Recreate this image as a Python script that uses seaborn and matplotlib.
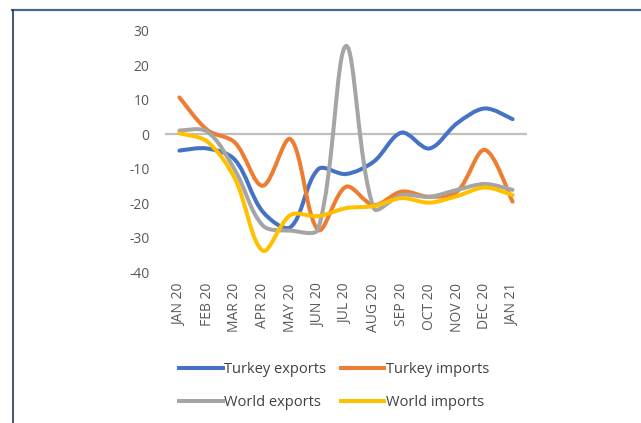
import numpy as np
import pandas as pd
import matplotlib
matplotlib.use('Agg')
import matplotlib.pyplot as plt
import seaborn as sns
from matplotlib.path import Path
from matplotlib.patches import PathPatch
from matplotlib.lines import Line2D

months = ['JAN 20', 'FEB 20', 'MAR 20', 'APR 20', 'MAY 20', 'JUN 20', 'JUL 20',
          'AUG 20', 'SEP 20', 'OCT 20', 'NOV 20', 'DEC 20', 'JAN 21']
turkey_exports = [-4.8, -4.2, -7.5, -22.5, -27.0, -10.2, -11.6, -8.0, 0.4, -4.2, 3.1, 7.4, 4.3]
turkey_imports = [10.6, 1.2, -2.5, -15.0, -1.5, -27.8, -15.3, -20.6, -16.7, -18.2, -16.7, -4.6, -19.6]
world_exports = [1.0, 0.7, -10.5, -26.5, -28.0, -27.5, 25.5, -21.5, -17.7, -18.2, -16.2, -14.5, -16.2]
world_imports = [0.2, -2.2, -13.0, -33.8, -23.5, -23.8, -21.5, -20.9, -18.6, -19.9, -18.0, -15.5, -17.7]

series_names = ['Turkey exports', 'Turkey imports', 'World exports', 'World imports']
colors = ['#4472C4', '#ED7D31', '#A5A5A5', '#FFC000']

df = pd.concat([
    pd.DataFrame({'month': months, 'value': vals, 'series': name})
    for name, vals in zip(series_names, [turkey_exports, turkey_imports, world_exports, world_imports])
])

plt.rcParams['font.family'] = ['Open Sans', 'DejaVu Sans']
plt.rcParams['axes.unicode_minus'] = False

fig = plt.figure(figsize=(6.41, 4.23), dpi=100)
ax = fig.add_axes([165/641, 1-272/423, (527-165)/641, (272-30.5)/423])

sns.lineplot(data=df, x='month', y='value', hue='series', hue_order=series_names,
             palette=colors, legend=False, sort=False, ax=ax)


def smooth_path(pts, sx=27.75, sy=3.45):
    # excel-like smoothed line, control points scaled by segment length
    n = len(pts)
    scr = pts * np.array([sx, sy])
    d = np.hypot(*np.diff(scr, axis=0).T)
    verts = [pts[0]]
    codes = [Path.MOVETO]
    for i in range(n - 1):
        p1, p2 = pts[i], pts[i + 1]
        if i > 0:
            t1 = (p2 - pts[i - 1]) * d[i] / (d[i - 1] + d[i]) / 3
        else:
            t1 = (p2 - p1) / 6
        if i + 2 < n:
            t2 = (pts[i + 2] - p1) * d[i] / (d[i] + d[i + 1]) / 3
        else:
            t2 = (p2 - p1) / 6
        verts += [p1 + t1, p2 - t2, p2]
        codes += [Path.CURVE4] * 3
    return Path(verts, codes)


ax.axhline(0, color='#BFBFBF', linewidth=1.6, zorder=1)
for line, c in zip(list(ax.lines)[:4], colors):
    pts = line.get_xydata()
    line.set_visible(False)
    ax.add_patch(PathPatch(smooth_path(pts), facecolor='none', edgecolor=c,
                           linewidth=2.9, capstyle='round', joinstyle='round', zorder=3))

ax.set_xlim(-0.52, 12.52)
ax.set_ylim(-40, 30)
ax.set_yticks(range(-40, 31, 10))
ax.set_xlabel('')
ax.set_ylabel('')
for s in ax.spines.values():
    s.set_visible(False)
ax.tick_params(axis='both', length=0, colors='#595959', labelsize=10)
ax.tick_params(axis='y', pad=11)
ax.tick_params(axis='x', pad=8)
for lab in ax.get_xticklabels():
    lab.set_rotation(90)

# row-wise legend order like the original
handles = [Line2D([], [], color=c, linewidth=2.9) for c in colors]
order = [0, 2, 1, 3]
leg = fig.legend([handles[i] for i in order], [series_names[i] for i in order],
                 loc='center', bbox_to_anchor=(334/641, 1-386/423),
                 ncol=2, frameon=False, fontsize=10.5, handlelength=3.0, handletextpad=0.1,
                 columnspacing=1.0, labelspacing=1.2)
for t in leg.get_texts():
    t.set_color('#404040')

# frame lines of the original picture
fig.add_artist(Line2D([12/641, 1], [1-10.5/423, 1-10.5/423], color='#4E6A85', linewidth=1.6))
fig.add_artist(Line2D([12.5/641, 12.5/641], [0, 1-10.5/423], color='#1F3864', linewidth=1.2))

fig.savefig('out.png', dpi=100)
